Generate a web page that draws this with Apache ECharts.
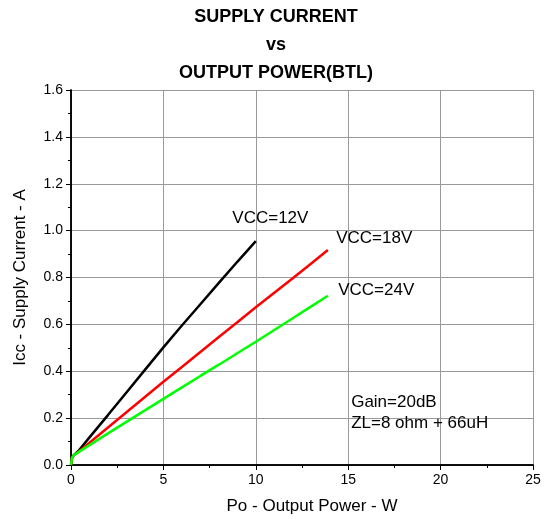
<!DOCTYPE html>
<html lang="en">
<head>
    <meta charset="UTF-8">
    <script src="https://cdn.jsdelivr.net/npm/echarts@6/dist/echarts.min.js"></script>
    <title>Supply Current vs Output Power</title>
    <style>
        html, body {
            margin: 0;
            padding: 0;
            width: 100%;
            height: 100%;
            background: #fff;
            overflow: hidden;
        }
        #chart {
            width: 552px;
            height: 519px;
        }
    </style>
</head>
<body>
<div id="chart"></div>
<script>
    // data: [Po (W), Icc (A)]
    var vcc12 = [[0, 0], [0.05, 0.03], [0.15, 0.042], [0.4, 0.06], [1, 0.118], [2, 0.213], [3, 0.309],
        [4, 0.406], [5, 0.502], [6, 0.595], [7, 0.686], [8, 0.777], [9, 0.867], [10, 0.955]];
    var vcc18 = [[0, 0], [0.05, 0.03], [0.15, 0.042], [0.4, 0.056], [1, 0.095], [2, 0.16], [3, 0.225],
        [4, 0.29], [5, 0.355], [6, 0.418], [7, 0.482], [8, 0.546], [9, 0.609], [10, 0.673],
        [11, 0.735], [12, 0.797], [13, 0.86], [13.9, 0.917]];
    var vcc24 = [[0, 0], [0.05, 0.03], [0.15, 0.042], [0.4, 0.055], [1, 0.085], [2, 0.135], [3, 0.184],
        [4, 0.233], [5, 0.282], [6, 0.331], [7, 0.38], [8, 0.428], [9, 0.477], [10, 0.526],
        [11, 0.576], [12, 0.626], [13, 0.677], [13.9, 0.722]];
    var seriesNames = ['VCC=12V', 'VCC=18V', 'VCC=24V'];
    var seriesColors = ['#000000', '#ff0000', '#00ff00'];
    var titleLines = ['SUPPLY CURRENT', 'vs', 'OUTPUT POWER(BTL)'];
    var noteLines = ['Gain=20dB', 'ZL=8 ohm + 66uH'];

    var font = 'Arial, "Liberation Sans", sans-serif';
    var chart = echarts.init(document.getElementById('chart'));

    function mirrorAxis(pos) {
        return {
            position: pos,
            axisLine: {show: true, lineStyle: {color: '#000', width: 1.5}},
            axisTick: {show: true, inside: true, length: 5, lineStyle: {color: '#000'}},
            minorTick: {show: true, splitNumber: 2, length: 3, lineStyle: {color: '#000'}},
            axisLabel: {show: false},
            splitLine: {show: false}
        };
    }

    var xTop = mirrorAxis('top');
    xTop.type = 'value'; xTop.min = 0; xTop.max = 25; xTop.interval = 5;
    var yRight = mirrorAxis('right');
    yRight.type = 'value'; yRight.min = 0; yRight.max = 1.6; yRight.interval = 0.2;

    var dataList = [vcc12, vcc18, vcc24];
    var series = dataList.map(function (d, i) {
        return {
            name: seriesNames[i],
            type: 'line',
            data: d,
            showSymbol: false,
            lineStyle: {color: seriesColors[i], width: 2.5},
            z: 5
        };
    });

    var option = {
        animation: false,
        backgroundColor: '#fff',
        title: titleLines.map(function (t, i) {
            return {
                text: t,
                left: 'center',
                top: 3 + i * 28,
                textStyle: {fontFamily: font, fontSize: 18, fontWeight: 'bold', color: '#000'}
            };
        }),
        grid: {left: 71, right: 19, top: 90, bottom: 54, outerBoundsMode: 'none', containLabel: false},
        xAxis: [{
            type: 'value',
            min: 0, max: 25, interval: 5,
            name: 'Po - Output Power - W',
            nameLocation: 'middle',
            nameGap: 33,
            nameTextStyle: {fontFamily: font, fontSize: 17, color: '#000', padding: [0, 0, 0, 20]},
            axisLine: {show: true, onZero: false, lineStyle: {color: '#000', width: 1.5}},
            axisTick: {show: true, length: 5, lineStyle: {color: '#000'}},
            minorTick: {show: true, splitNumber: 2, length: 3, lineStyle: {color: '#000'}},
            axisLabel: {fontFamily: font, fontSize: 14, color: '#000', margin: 8},
            splitLine: {show: true, lineStyle: {color: '#999', width: 1}}
        }, xTop],
        yAxis: [{
            type: 'value',
            min: 0, max: 1.6, interval: 0.2,
            name: 'Icc - Supply Current - A',
            nameLocation: 'middle',
            nameGap: 42,
            nameTextStyle: {fontFamily: font, fontSize: 17, color: '#000'},
            axisLine: {show: true, onZero: false, lineStyle: {color: '#000', width: 1.5}},
            axisTick: {show: true, length: 5, lineStyle: {color: '#000'}},
            minorTick: {show: true, splitNumber: 2, length: 3, lineStyle: {color: '#000'}},
            axisLabel: {
                fontFamily: font, fontSize: 14, color: '#000', margin: 8,
                formatter: function (v) { return v.toFixed(1); }
            },
            splitLine: {show: true, lineStyle: {color: '#999', width: 1}}
        }, yRight],
        series: series.concat([{
            type: 'scatter',
            data: [],
            markPoint: {
                symbol: 'circle',
                symbolSize: 0,
                label: {show: true, fontFamily: font, fontSize: 17, color: '#000', position: 'inside', align: 'left'},
                data: [
                    {coord: [8.73, 1.054], value: seriesNames[0], label: {formatter: seriesNames[0]}},
                    {coord: [14.35, 0.968], value: seriesNames[1], label: {formatter: seriesNames[1]}},
                    {coord: [14.46, 0.747], value: seriesNames[2], label: {formatter: seriesNames[2]}},
                    {coord: [15.16, 0.269], value: noteLines[0], label: {formatter: noteLines[0]}},
                    {coord: [15.16, 0.179], value: noteLines[1], label: {formatter: noteLines[1]}}
                ]
            }
        }])
    };
    chart.setOption(option);
</script>
</body>
</html>
